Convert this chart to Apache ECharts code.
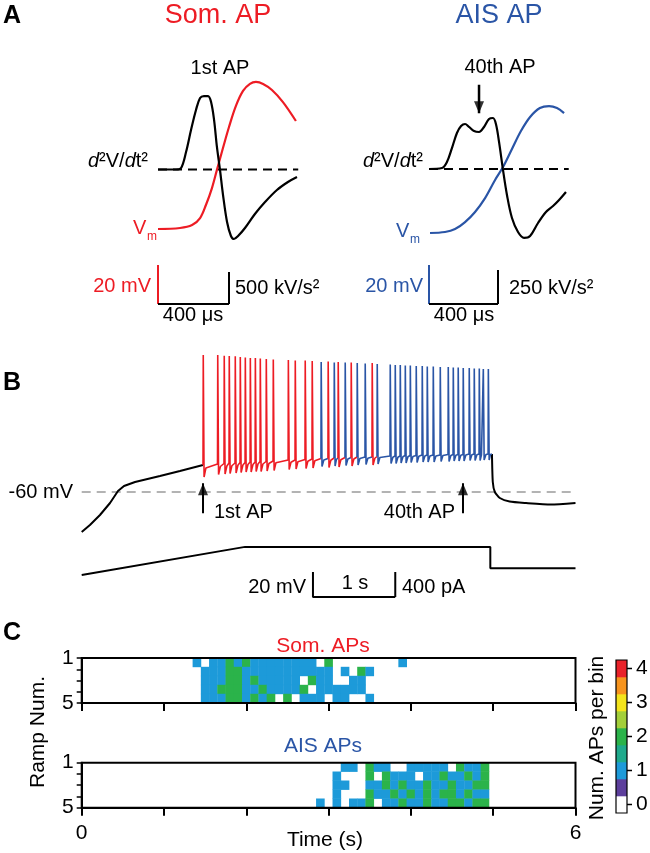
<!DOCTYPE html>
<html><head><meta charset="utf-8">
<script src="https://cdn.jsdelivr.net/npm/echarts@6/dist/echarts.min.js"></script>
<style>html,body{margin:0;padding:0;background:#fff}#c{width:650px;height:853px}</style>
</head><body><div id="c"></div>
<script>
// ================= DATA =================
// Panel A left: 1st AP (somatic initiation). time in µs
const somVmT  = [0,124,192,237,270,304,332,366,400,439,479,518,552,592,642,704,777];
const somVm   = [-70,-69.5,-68,-64.4,-57.7,-49,-39.7,-28.5,-17.7,-6.9,0.8,4.4,5.4,4.4,1.3,-4.9,-14.6]; // mV
const somD2T  = [0,101,130,158,186,214,237,259,282,299,316,332,349,366,389,411,428,451,490,546,603,670,732,783];
const somD2   = [0,0,23,273,617,930,1117,1148,1148,1055,773,352,0,-391,-820,-1039,-1086,-1039,-914,-695,-508,-320,-195,-117]; // kV/s²
// Panel A right: 40th AP (AIS initiation)
const aisVmT  = [6,93,151,209,267,325,383,429,481,533,586,643,696,742,783];
const aisVm   = [-70,-69.5,-68,-64.4,-59.2,-52.1,-42.8,-36.2,-26.9,-17.7,-10.5,-5.9,-4.9,-5.9,-8.5];
const aisD2T  = [0,75,104,133,162,186,209,232,261,290,319,348,371,388,406,429,452,481,516,551,586,632,678,719,754,794];
const aisD2   = [0,7,51,154,265,316,331,309,279,272,309,368,375,331,199,-7,-191,-360,-463,-507,-493,-397,-316,-272,-228,-169];
const scaleA  = {left:{mV:20, us:400, d2:500}, right:{mV:20, us:400, d2:250}};

// Panel B: ramp response. time in s, voltage in mV, current in pA
const preT  = [0,0.1,0.222,0.344,0.441,0.514,0.648,0.951,1.194,1.474];
const preV  = [-92,-86.4,-78.4,-68.8,-59.2,-55.2,-52,-47.2,-43.2,-38.4];
const spikeTimes = [1.474,1.650,1.729,1.790,1.863,1.924,1.985,2.046,2.107,2.167,2.240,2.325,2.508,2.592,2.713,2.798,
  2.907,2.992,3.066,3.114,3.199,3.272,3.345,3.442,3.527,3.588,
  3.746,3.807,3.868,3.929,3.990,4.062,4.135,4.196,4.269,4.354,4.451,4.512,4.572,4.633,4.706,4.767,4.828,4.877,4.938];
const spikeSite  = ['S','S','S','S','S','S','S','S','S','S','S','S','S','S','S','S',
  'A','S','A','S','A','S','A','A','S','A',
  'A','A','A','A','A','A','A','A','A','A','A','A','A','A','A','A','A','A','A'];
const spikePeak  = [49.6,49.6,49,48.8,48.5,48,47.6,47.2,47.2,46.8,46.4,46,45.6,45.2,45.2,44.8,
  44,44.4,43.6,44,43.6,43.6,43.2,42.8,43.2,42.4,
  42,41.6,41.6,41.2,41.2,40.8,40.8,40.4,40.4,40,40,39.6,39.6,39.2,39.2,38.8,38.8,38.4,38.4];
const spikeBase  = [-38.4,-37.6,-37.2,-36.8,-36.8,-36.4,-36.4,-36,-36,-35.6,-35.6,-35.2,-34.4,-34.4,-34,-33.6,
  -33.2,-33.2,-32.8,-32.8,-32.4,-32.4,-32,-32,-32,-31.6,
  -31.2,-31.2,-31.2,-30.8,-30.8,-30.8,-30.4,-30.4,-30.4,-30.4,-30,-30,-30,-30,-29.6,-29.6,-29.6,-29.6,-29.6];
const spikeTrough= [-48,-46,-45.6,-45.2,-44.8,-44.4,-44,-44,-43.6,-43.6,-43.2,-42.8,-42,-41.6,-41.2,-40.8,
  -39.6,-40.4,-39.2,-40,-38.8,-39.2,-38.4,-38,-38.4,-37.6,
  -37.2,-37.2,-36.8,-36.8,-36.4,-36.4,-36,-36,-36,-35.6,-35.6,-35.2,-35.2,-35.2,-34.8,-34.8,-34.8,-34.4,-34.4];
const postT = [4.985,4.995,5.02,5.08,5.2,5.4,5.7,6.0];
const postV = [-29.6,-52,-60,-64.8,-67.6,-68.8,-70,-68.8];
const curT  = [0,1.985,4.965,4.965,6.0];
const curI  = [0,450,450,110,110];
const restLevel = -60;
const scaleB = {mV:20, s:1, pA:400};

// Panel C: APs per 0.1 s bin, 5 ramps (rows), bins centred at k*0.1 s
const binW = 0.1;
const somStartBin = 13;
const somCounts = [
  [0,1,0,1,1,2,1,2,1,1,1,1,1,1,1,1,0,2,0,0,0,0,0,0,0,0,1],
  [0,0,1,1,1,2,2,1,1,1,1,1,1,1,1,1,1,1,0,1,0,2,1,0,0,0,0],
  [0,0,1,1,1,2,2,1,2,1,1,1,1,1,0,2,1,1,0,0,1,1,0,0,0,0,0],
  [0,0,1,1,2,2,2,1,1,2,1,1,1,1,2,0,1,1,1,1,1,1,0,0,0,0,0],
  [0,0,1,1,1,2,2,1,2,1,2,0,2,0,1,1,1,0,1,1,0,0,1,0,0,0,0]];
const aisStartBin = 29;
const aisCounts = [
  [0,0,0,1,1,0,2,1,1,0,0,1,1,1,1,1,0,2,1,1,2],
  [0,0,1,0,0,0,2,0,2,1,1,1,0,1,1,2,1,1,2,1,2],
  [0,0,1,1,0,0,1,1,2,1,2,1,1,2,1,1,2,1,1,2,2],
  [0,0,1,0,0,0,2,1,1,2,1,2,1,2,1,2,2,1,2,1,1],
  [1,0,1,0,1,1,2,0,1,1,2,1,1,2,1,1,2,2,1,2,2]];
const timeTicks = [0,6];
const rampTicks = [1,5];
const colorLevels = [0,0.5,1,1.5,2,2.5,3,3.5,4];
const colorLevelColors = ['#ffffff','#5d3f9c','#1d9ad9','#1faa8c','#2bb34a','#a3cf3a','#f3e41c','#f7941e','#e9222a'];
const colorLabels = ['0','','1','','2','','3','','4'];

// ================= STYLE / LAYOUT =================
const FONT = '"Liberation Sans", Arial, Helvetica, sans-serif';
const RED = '#ed1c24', BLUE = '#2a55a6', BLACK = '#000';

function geom(px0, sx, xmin, xmax, vy0, py0, sy, ymin, ymax) {
  return {left: px0 + xmin*sx, width: (xmax-xmin)*sx, top: py0 - (ymax-vy0)*sy, height: (ymax-ymin)*sy};
}
function alignRange(g, v0, p0, s) { const max = v0 + (p0 - g.top)/s; return [max - g.height/s, max]; }
const zip = (a,b) => a.map((v,i)=>[v,b[i]]);

const grids=[], xAxes=[], yAxes=[], series=[];
function addGrid(g, extra) { grids.push(Object.assign({outerBoundsMode:'none', containLabel:false, show:false}, g, extra||{})); return grids.length-1; }
function addX(o){ xAxes.push(o); return xAxes.length-1; }
function addY(o){ yAxes.push(o); return yAxes.length-1; }
const hidden = {show:false, type:'value', splitLine:{show:false}};
function line(xi, yi, data, color, width, extra) {
  return Object.assign({type:'line', xAxisIndex:xi, yAxisIndex:yi, data, showSymbol:false, symbol:'none', silent:true,
    lineStyle:{color, width}, z:3, animation:false}, extra||{});
}
function arrow(xi, yi, t, vFrom, vTo, up, width) {
  series.push(line(xi, yi, [[t, vFrom],[t, vTo]], BLACK, width));
  series.push({type:'scatter', xAxisIndex:xi, yAxisIndex:yi, data:[[t, vTo]], symbol:'triangle', symbolSize:[10,12],
    symbolRotate: up ? 0 : 180, symbolOffset:[0, up ? 6 : -6], itemStyle:{color:BLACK}, silent:true, z:5, animation:false});
}

// ---- Panel A left
const gAL = geom(158, 0.1775, -50, 850, -70, 229, 1.95, -120, 30);
const AL = {pxPerV:1.95, vAnchor:-70, yAnchor:229, d2Zero:169.5, d2s:0.064};
const giAL = addGrid(gAL);
const xAL = addX(Object.assign({gridIndex:giAL, min:-50, max:850}, hidden));
const yALv = addY(Object.assign({gridIndex:giAL, min:-120, max:30}, hidden));
const rAL = alignRange(gAL, 0, AL.d2Zero, AL.d2s);
const yALd = addY(Object.assign({gridIndex:giAL, min:rAL[0], max:rAL[1]}, hidden));
series.push(line(xAL, yALd, [[0,0],[790,0]], BLACK, 2, {lineStyle:{color:BLACK, width:2, type:[9,6]}, z:2}));
series.push(line(xAL, yALv, zip(somVmT, somVm), RED, 2.2, {smooth:0.35}));
series.push(line(xAL, yALd, zip(somD2T, somD2), BLACK, 2.2, {smooth:0.35}));
(function(){
  const vBase = -108.5, pix = AL.yAnchor + (AL.vAnchor - vBase)*AL.pxPerV, d2Base = (AL.d2Zero - pix)/AL.d2s;
  const s = scaleA.left;
  series.push(line(xAL, yALv, [[0,vBase+s.mV],[0,vBase]], RED, 2));
  series.push(line(xAL, yALv, [[0,vBase],[s.us,vBase]], BLACK, 2));
  series.push(line(xAL, yALd, [[s.us,d2Base],[s.us,d2Base+s.d2]], BLACK, 2));
})();

// ---- Panel A right
const gAR = geom(429, 0.1725, -50, 850, -70, 233, 1.95, -120, 30);
const AR = {pxPerV:1.95, vAnchor:-70, yAnchor:233, d2Zero:169, d2s:0.136};
const giAR = addGrid(gAR);
const xAR = addX(Object.assign({gridIndex:giAR, min:-50, max:850}, hidden));
const yARv = addY(Object.assign({gridIndex:giAR, min:-120, max:30}, hidden));
const rAR = alignRange(gAR, 0, AR.d2Zero, AR.d2s);
const yARd = addY(Object.assign({gridIndex:giAR, min:rAR[0], max:rAR[1]}, hidden));
series.push(line(xAR, yARd, [[0,0],[810,0]], BLACK, 2, {lineStyle:{color:BLACK, width:2, type:[9,6]}, z:2}));
series.push(line(xAR, yARv, zip(aisVmT, aisVm), BLUE, 2.2, {smooth:0.35}));
series.push(line(xAR, yARd, zip(aisD2T, aisD2), BLACK, 2.2, {smooth:0.35}));
arrow(xAR, yARd, 290, 620, 410, false, 2.5);
(function(){
  const vBase = -106.4, pix = AR.yAnchor + (AR.vAnchor - vBase)*AR.pxPerV, d2Base = (AR.d2Zero - pix)/AR.d2s;
  const s = scaleA.right;
  series.push(line(xAR, yARv, [[0,vBase+s.mV],[0,vBase]], BLUE, 2));
  series.push(line(xAR, yARv, [[0,vBase],[s.us,vBase]], BLACK, 2));
  series.push(line(xAR, yARd, [[s.us,d2Base],[s.us,d2Base+s.d2]], BLACK, 2));
})();

// ---- Panel B
const T0 = 81.7, PXS = 82.3;
const gB = geom(T0, PXS, 0, 6, -60, 492, 1.25, -145, 60);
const giB = addGrid(gB);
const xB = addX(Object.assign({gridIndex:giB, min:0, max:6}, hidden));
const yBv = addY(Object.assign({gridIndex:giB, min:-145, max:60}, hidden));
const rBi = alignRange(gB, 0, 575, 0.0625);
const yBi = addY(Object.assign({gridIndex:giB, min:rBi[0], max:rBi[1]}, hidden));
series.push(line(xB, yBv, [[0,restLevel],[6,restLevel]], '#b3b3b3', 2, {lineStyle:{color:'#b3b3b3', width:2, type:[9,6]}, z:1}));
const i40 = 39;
series.push(line(xB, yBv, zip(preT, preV), BLACK, 2));
arrow(xB, yBv, spikeTimes[0], -77, -53, true, 2);
arrow(xB, yBv, spikeTimes[i40], -77, -53, true, 2);
(function(){
  const n = spikeTimes.length;
  let run = null, runSite = null;
  const flush = () => { if (run) series.push(line(xB, yBv, run, runSite==='S'?RED:BLUE, 1.6, {z:4})); };
  for (let i=0;i<n;i++){
    const t = spikeTimes[i];
    const tn = i<n-1 ? spikeTimes[i+1] : postT[0];
    const bn = i<n-1 ? spikeBase[i+1] : postV[0];
    const rec = Math.min(0.035, (tn-t)*0.6);
    const pts = [[t, spikeBase[i]],[t+0.003, spikePeak[i]],[t+0.013, spikeTrough[i]],[t+rec, (spikeTrough[i]+bn)/2 + 2],[tn, bn]];
    if (spikeSite[i] !== runSite) { flush(); run = pts; runSite = spikeSite[i]; }
    else run = run.concat(pts.slice(1));
  }
  flush();
})();
series.push(line(xB, yBv, zip(postT, postV), BLACK, 2, {smooth:0.2}));
series.push(line(xB, yBi, zip(curT, curI), BLACK, 2));
(function(){
  const t0 = 2.81, vBase = -144, iBase = (575 - (492 + (-60 - vBase)*1.25))/0.0625;
  series.push(line(xB, yBv, [[t0,vBase+scaleB.mV],[t0,vBase],[t0+scaleB.s,vBase]], BLACK, 2));
  series.push(line(xB, yBi, [[t0+scaleB.s,iBase],[t0+scaleB.s,iBase+scaleB.pA]], BLACK, 2));
})();

// ---- Panel C heatmaps
const ROWH = 4/5;
function cells(counts, start) {
  const out=[];
  counts.forEach((row, r) => row.forEach((v, j) => { if (v>0) out.push([(start+j)*binW, r+1, v]); }));
  return out;
}
function heatAxes(top, showLabels) {
  const gi = addGrid({left:T0, width:6*PXS, top, height:45}, {show:true, borderColor:BLACK, borderWidth:2, z:5});
  const xi = addX({gridIndex:gi, type:'value', min:0, max:6, interval:1, z:6,
    axisLine:{onZero:false, lineStyle:{color:BLACK, width:2}}, splitLine:{show:false},
    axisTick:{inside:false, length:8, lineStyle:{color:BLACK, width:2}},
    axisLabel:{show:showLabels, margin:15, fontSize:21, color:BLACK, fontFamily:FONT,
      formatter: v => timeTicks.includes(v) ? String(v) : ''}});
  const yi = addY({gridIndex:gi, type:'value', min:1, max:5, interval:1, inverse:true, z:6,
    axisLine:{onZero:false, lineStyle:{color:BLACK, width:2}}, splitLine:{show:false},
    axisTick:{inside:false, length:5, lineStyle:{color:BLACK, width:1.5}},
    axisLabel:{margin:8, fontSize:21, color:BLACK, fontFamily:FONT,
      formatter: v => rampTicks.includes(v) ? String(v) : ''}});
  return {xi, yi};
}
function heatSeries(ax, data) {
  return {type:'custom', xAxisIndex:ax.xi, yAxisIndex:ax.yi, data, encode:{x:0, y:1}, z:1, silent:true, animation:false,
    renderItem(params, api) {
      const t = api.value(0), r = api.value(1);
      const a = api.coord([t - binW/2, 1 + (r-1)*ROWH]);
      const b = api.coord([t + binW/2, 1 + r*ROWH]);
      return {type:'rect', shape:{x:Math.min(a[0],b[0])-0.2, y:Math.min(a[1],b[1])-0.2,
        width:Math.abs(b[0]-a[0])+0.4, height:Math.abs(b[1]-a[1])+0.4}, style:{fill: api.visual('color')}};
    }};
}
const axTop = heatAxes(658, false);
const axBot = heatAxes(762.7, true);
series.push(heatSeries(axTop, cells(somCounts, somStartBin)));
const iTop = series.length-1;
series.push(heatSeries(axBot, cells(aisCounts, aisStartBin)));
const iBot = series.length-1;

const pieces = colorLevels.map((v,i)=>({min:v-0.25, max:v+0.25, color:colorLevelColors[i]}));
const CB = {left:616, top:660, w:11, h:17};

// ---- Text & decorations
function txt(text, x, y, size, o) {
  o = o || {};
  return {type:'text', x, y, rotation:o.rot||0, silent:true, z:100,
    style:{text, fill:o.color||BLACK, fontSize:size, fontFamily:FONT, fontWeight:o.weight||'normal', fontStyle:o.style||'normal',
      align:o.align||'left', verticalAlign:'middle', textAlign:o.align||'left', textVerticalAlign:'middle', rich:o.rich}};
}
const richD = {i:{fontStyle:'italic', fontSize:20, fontFamily:FONT, fill:BLACK}};
const gfx = [
  txt('A', 3, 16, 25, {weight:'bold'}),
  txt('Som. AP', 218, 16, 27, {color:RED, align:'center'}),
  txt('AIS AP', 499, 16, 27, {color:BLUE, align:'center'}),
  txt('1st AP', 220, 68, 20, {align:'center'}),
  txt('40th AP', 500, 67, 20, {align:'center'}),
  txt('{i|d}²V/{i|d}t²', 148, 161, 20, {align:'right', rich:richD}),
  txt('{i|d}²V/{i|d}t²', 423, 161, 20, {align:'right', rich:richD}),
  txt('V', 133, 228, 20, {color:RED}),
  txt('m', 147, 237, 12, {color:RED}),
  txt('V', 396, 231, 20, {color:BLUE}),
  txt('m', 410, 240, 12, {color:BLUE}),
  txt('20 mV', 151, 286, 20, {color:RED, align:'right'}),
  txt('500 kV/s²', 235, 288, 20),
  txt('400 μs', 193, 315, 20, {align:'center'}),
  txt('20 mV', 423, 286, 20, {color:BLUE, align:'right'}),
  txt('250 kV/s²', 509, 288, 20),
  txt('400 μs', 464, 315, 20, {align:'center'}),
  txt('B', 3, 383, 25, {weight:'bold'}),
  txt('-60 mV', 73, 492, 20, {align:'right'}),
  txt('1st AP', 214, 512, 20),
  txt('40th AP', 455, 512, 20, {align:'right'}),
  txt('20 mV', 306, 587, 20, {align:'right'}),
  txt('1 s', 355, 583, 20, {align:'center'}),
  txt('400 pA', 402, 587, 20),
  txt('C', 3, 633, 25, {weight:'bold'}),
  txt('Som. APs', 323, 646, 21, {color:RED, align:'center'}),
  txt('AIS APs', 323, 746, 21, {color:BLUE, align:'center'}),
  txt('Ramp Num.', 38, 732, 21, {align:'center', rot:Math.PI/2}),
  txt('Time (s)', 325, 840, 21, {align:'center'}),
  txt('Num. APs per bin', 597, 738, 21, {align:'center', rot:Math.PI/2})
];
// colour bar built from the colour levels (highest on top)
const nLv = colorLevels.length;
colorLevels.forEach((v, i) => {
  const y = CB.top + CB.h*(nLv-1-i);
  gfx.push({type:'rect', silent:true, z:99, shape:{x:CB.left, y, width:CB.w, height:CB.h+0.3}, style:{fill:colorLevelColors[i]}});
  if (colorLabels[i]) {
    gfx.push({type:'line', silent:true, z:100, shape:{x1:CB.left+CB.w, y1:y+CB.h/2, x2:CB.left+CB.w+5, y2:y+CB.h/2}, style:{stroke:BLACK, lineWidth:1.5}});
    gfx.push(txt(colorLabels[i], CB.left+CB.w+9, y+CB.h/2, 21));
  }
});
gfx.push({type:'rect', silent:true, z:100, shape:{x:CB.left, y:CB.top, width:CB.w, height:CB.h*nLv}, style:{fill:'none', stroke:BLACK, lineWidth:1.2}});

const chart = echarts.init(document.getElementById('c'), null, {renderer:'canvas', width:650, height:853});
chart.setOption({
  animation:false, backgroundColor:'#fff', textStyle:{fontFamily:FONT},
  grid:grids, xAxis:xAxes, yAxis:yAxes, series,
  visualMap:[{type:'piecewise', show:false, seriesIndex:[iTop,iBot], dimension:2, pieces}],
  graphic:{elements:gfx}
});
</script></body></html>
